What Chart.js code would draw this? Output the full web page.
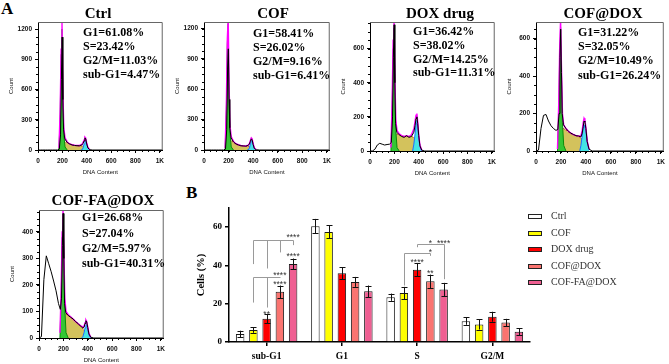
<!DOCTYPE html>
<html>
<head>
<meta charset="utf-8">
<script src="https://cdn.jsdelivr.net/npm/chart.js@4.4.0/dist/chart.umd.min.js"></script>
<style>
  body { margin: 0; background: #fff; }
  #fig { position: relative; width: 669px; height: 364px; overflow: hidden; font-family: 'Liberation Serif', 'Times New Roman', serif; color: #000; }
  #fig canvas { position: absolute; }
  .ttl { position: absolute; font-weight: bold; font-size: 15px; transform: translate(-50%, -50%); white-space: nowrap; }
  .stat { position: absolute; font-weight: bold; font-size: 12px; white-space: nowrap; }
  .letter { position: absolute; font-weight: bold; font-size: 17px; line-height: 17px; }
</style>
</head>
<body>
<div id="fig">
  <div class="letter" style="left:1px; top:0px;">A</div>
  <div class="letter" style="left:186px; top:184px;">B</div>
</div>
<script>
// ---- A: DNA content histograms ----
const DATA_X = [0, 20, 40, 60, 80, 100, 120, 140, 160, 175, 185, 192, 198, 204, 210, 220, 240, 260, 280, 300, 320, 340, 360, 370, 378, 385, 392, 400, 410, 425, 450, 1024];
const FIT_X = [172, 182, 190, 197, 204, 212, 222, 240, 260, 280, 300, 320, 340, 360, 370, 378, 385, 392, 400, 410, 425];
const G1_X = [172, 182, 190, 197, 204, 212, 222, 240];
const S_X = [185, 192, 198, 204, 210, 220, 240, 260, 280, 300, 320, 340, 360, 370, 378, 385, 392, 400, 410];
const G2_X = [350, 360, 370, 378, 385, 392, 400, 410, 425];
const HIST_X_TICKS = [0, 200, 400, 600, 800, 1000];

const HIST_TITLES = ['Ctrl', 'COF', 'DOX drug', 'COF@DOX', 'COF-FA@DOX'];

const CTRL_STATS = ['G1=61.08%', 'S=23.42%', 'G2/M=11.03%', 'sub-G1=4.47%'];
const CTRL_Y_TICKS = [0, 300, 600, 900, 1200];
const CTRL_COUNT = [0, 0, 0, 0, 0, 0, 0, 0, 0, 10, 150, 700, 1120, 500, 200, 110, 75, 60, 50, 45, 43, 42, 50, 65, 90, 120, 110, 60, 20, 3, 0, 0];
const CTRL_FIT = [20, 400, 1000, 1280, 600, 220, 120, 80, 60, 52, 47, 45, 45, 55, 75, 100, 128, 118, 70, 25, 5];
const CTRL_G1 = [0, 350, 950, 1200, 550, 150, 30, 0];
const CTRL_S = [0, 30, 70, 80, 80, 80, 75, 58, 50, 45, 42, 40, 40, 40, 35, 25, 15, 5, 0];
const CTRL_G2 = [0, 0, 20, 60, 95, 95, 60, 20, 0];

const COF_STATS = ['G1=58.41%', 'S=26.02%', 'G2/M=9.16%', 'sub-G1=6.41%'];
const COF_Y_TICKS = [0, 300, 600, 900, 1200];
const COF_COUNT = [0, 0, 0, 0, 0, 0, 0, 0, 0, 10, 200, 800, 1000, 500, 220, 120, 80, 60, 50, 42, 40, 38, 45, 60, 85, 110, 100, 55, 15, 3, 0, 0];
const COF_FIT = [20, 450, 1100, 1300, 650, 240, 130, 85, 62, 52, 45, 42, 40, 48, 65, 95, 120, 110, 65, 20, 5];
const COF_G1 = [0, 400, 1050, 1250, 600, 160, 30, 0];
const COF_S = [0, 30, 70, 85, 90, 95, 75, 58, 48, 42, 38, 35, 35, 33, 30, 22, 12, 5, 0];
const COF_G2 = [0, 0, 20, 60, 90, 95, 55, 15, 0];

const DOX_STATS = ['G1=36.42%', 'S=38.02%', 'G2/M=14.25%', 'sub-G1=11.31%'];
const DOX_Y_TICKS = [0, 200, 400, 600];
const DOX_COUNT = [0, 0, 10, 35, 45, 40, 35, 38, 40, 50, 200, 550, 740, 400, 160, 110, 95, 85, 80, 90, 80, 85, 110, 150, 190, 200, 160, 90, 30, 5, 0, 0];
const DOX_FIT = [20, 300, 650, 780, 450, 180, 120, 100, 90, 85, 90, 85, 95, 130, 175, 210, 220, 170, 95, 35, 5];
const DOX_G1 = [0, 250, 600, 720, 380, 120, 20, 0];
const DOX_S = [20, 50, 80, 95, 100, 100, 95, 88, 85, 85, 85, 85, 80, 70, 55, 40, 25, 10, 0];
const DOX_G2 = [0, 40, 100, 160, 180, 145, 80, 25, 0];

const COFDOX_STATS = ['G1=31.22%', 'S=32.05%', 'G2/M=10.49%', 'sub-G1=26.24%'];
const COFDOX_Y_TICKS = [0, 200, 400, 600];
const COFDOX_COUNT = [0, 5, 120, 190, 195, 160, 135, 120, 110, 115, 200, 500, 650, 420, 200, 140, 120, 105, 95, 88, 82, 80, 75, 95, 130, 160, 155, 120, 50, 10, 0, 0];
const COFDOX_FIT = [10, 250, 560, 700, 450, 200, 140, 120, 105, 95, 88, 82, 80, 80, 110, 150, 175, 165, 125, 55, 10];
const COFDOX_G1 = [0, 220, 520, 660, 420, 150, 30, 0];
const COFDOX_S = [30, 60, 90, 110, 120, 120, 112, 100, 92, 86, 80, 78, 70, 60, 45, 30, 20, 10, 0];
const COFDOX_G2 = [0, 30, 80, 120, 140, 140, 110, 50, 5];

const COFFA_STATS = ['G1=26.68%', 'S=27.04%', 'G2/M=5.97%', 'sub-G1=40.31%'];
const COFFA_Y_TICKS = [0, 100, 200, 300, 400];
const COFFA_COUNT = [0, 5, 220, 310, 280, 250, 215, 178, 130, 108, 150, 350, 470, 300, 130, 95, 85, 78, 72, 62, 55, 45, 38, 40, 55, 65, 60, 40, 15, 3, 0, 0];
const COFFA_FIT = [20, 180, 400, 490, 330, 150, 100, 88, 80, 72, 62, 55, 47, 42, 45, 58, 68, 62, 42, 18, 3];
const COFFA_G1 = [0, 150, 380, 470, 310, 110, 20, 0];
const COFFA_S = [20, 50, 75, 88, 92, 92, 85, 78, 70, 60, 52, 44, 36, 30, 24, 16, 10, 5, 0];
const COFFA_G2 = [0, 5, 20, 38, 50, 50, 32, 12, 0];

// ---- B: cell cycle bar chart ----
const PHASES = ['sub-G1', 'G1', 'S', 'G2/M'];
const GROUPS = ['Ctrl', 'COF', 'DOX drug', 'COF@DOX', 'COF-FA@DOX'];
const BAR_Y_TICKS = [0, 20, 40, 60];
const CTRL_MEAN = [4.2, 60.5, 23.4, 10.9];
const COF_MEAN = [6.3, 57.5, 25.6, 9.2];
const DOX_MEAN = [12.2, 35.9, 37.8, 13.2];
const COFDOX_MEAN = [26.2, 31.4, 31.7, 10.2];
const COFFA_MEAN = [40.8, 26.5, 27.4, 5.3];
const CTRL_SD = [1.7, 3.8, 1.9, 1.9];
const COF_SD = [1.5, 3.4, 3.2, 2.7];
const DOX_SD = [2.4, 3.1, 3.5, 2.6];
const COFDOX_SD = [3.3, 2.6, 3.5, 1.9];
const COFFA_SD = [2.8, 3.0, 3.5, 1.9];

// significance brackets: phase index, bars joined, bracket height, foot heights (in %)
const BRACKET_PHASE = [0, 0, 2, 2];
const BRACKET_BARS = [[1, 2, 3, 4], [1, 2, 3], [2, 4], [1, 3]];
const BRACKET_TOP = [53.4, 33.7, 51.2, 46.5];
const BRACKET_FEET = [[40.7, 38.4, 46.8, 50.6], [20.6, 18, 33.7], [49.5, 32.8], [29.5, 45]];
const STAR_PHASE = [0, 0, 0, 0, 0, 2, 2, 2, 2, 2];
const STAR_BAR = [4, 3, 3, 4, 2, 4, 3, 3, 2, 3];
const STAR_Y = [55.6, 35.5, 31.2, 45.5, 15.4, 52.4, 52.4, 47.6, 42.5, 36.9];
const STAR_TEXT = ['****', '****', '****', '****', '**', '****', '*', '*', '****', '**'];

// ---- styling / layout ----
const HIST_LAYOUT = [
  { area: [38, 22, 166, 150], ymax: 1270, ystep: 300, title: [98, 13], stats: [83, 32, 14] },
  { area: [204, 22, 333, 150], ymax: 1265, ystep: 300, title: [273, 13], stats: [253, 33, 14] },
  { area: [370, 22, 498, 151], ymax: 756, ystep: 200, title: [440, 13], stats: [413, 32, 13.7] },
  { area: [536, 22, 667, 151], ymax: 688, ystep: 200, title: [603, 13], stats: [578, 32, 14.3] },
  { area: [39, 210, 167, 338], ymax: 483, ystep: 100, title: [103, 200], stats: [82, 218, 15.3] }
];
const HIST_DATA = [
  [CTRL_COUNT, CTRL_FIT, CTRL_G1, CTRL_S, CTRL_G2, CTRL_STATS, CTRL_Y_TICKS],
  [COF_COUNT, COF_FIT, COF_G1, COF_S, COF_G2, COF_STATS, COF_Y_TICKS],
  [DOX_COUNT, DOX_FIT, DOX_G1, DOX_S, DOX_G2, DOX_STATS, DOX_Y_TICKS],
  [COFDOX_COUNT, COFDOX_FIT, COFDOX_G1, COFDOX_S, COFDOX_G2, COFDOX_STATS, COFDOX_Y_TICKS],
  [COFFA_COUNT, COFFA_FIT, COFFA_G1, COFFA_S, COFFA_G2, COFFA_STATS, COFFA_Y_TICKS]
];
const BAR_MEANS = [CTRL_MEAN, COF_MEAN, DOX_MEAN, COFDOX_MEAN, COFFA_MEAN];
const BAR_SDS = [CTRL_SD, COF_SD, DOX_SD, COFDOX_SD, COFFA_SD];
const BAR_COLORS = ['#ffffff', '#ffff00', '#ff0000', '#fa7470', '#ef5f92'];

const SANS = "'Liberation Sans', Arial, sans-serif";
const SERIF = "'Liberation Serif', 'Times New Roman', serif";
const fig = document.getElementById('fig');

function pts(xs, ys) {
  return xs.map((x, i) => ({ x: x, y: ys[i] }));
}

function asTicks(values) {
  return values.map(v => ({ value: v }));
}

function addDiv(cls, html, left, top, extra) {
  const d = document.createElement('div');
  d.className = cls;
  d.innerHTML = html;
  d.style.left = left + 'px';
  d.style.top = top + 'px';
  if (extra) Object.assign(d.style, extra);
  fig.appendChild(d);
  return d;
}

function addCanvas(left, top, w, h) {
  const cv = document.createElement('canvas');
  cv.width = w; cv.height = h;
  cv.style.left = left + 'px'; cv.style.top = top + 'px';
  cv.style.width = w + 'px'; cv.style.height = h + 'px';
  fig.appendChild(cv);
  return cv;
}

// frame on top/right + minor tick marks
const histFrame = {
  id: 'histFrame',
  afterDraw(chart, args, opts) {
    const { ctx, chartArea: a, scales: { x, y } } = chart;
    ctx.save();
    ctx.strokeStyle = '#666';
    ctx.lineWidth = 1;
    ctx.beginPath();
    ctx.moveTo(a.left, a.top + 0.5); ctx.lineTo(a.right - 0.5, a.top + 0.5); ctx.lineTo(a.right - 0.5, a.bottom);
    ctx.stroke();
    ctx.strokeStyle = '#000';
    ctx.beginPath();
    for (let v = 0; v <= x.max; v += 50) {
      const px = Math.round(x.getPixelForValue(v)) + 0.5;
      ctx.moveTo(px, a.bottom); ctx.lineTo(px, a.bottom + 2);
    }
    for (let v = 0; v <= y.max; v += opts.yMinor) {
      const py = Math.round(y.getPixelForValue(v)) + 0.5;
      ctx.moveTo(a.left, py); ctx.lineTo(a.left - 2, py);
    }
    ctx.stroke();
    ctx.restore();
  }
};

function makeHist(k) {
  const lay = HIST_LAYOUT[k];
  const [count, fit, g1, s, g2, stats, yTicks] = HIST_DATA[k];
  const L = 38, T = 22, R = 2, B = 28;
  const [x0, y0, x1, y1] = lay.area;
  const cv = addCanvas(x0 - L, y0 - T, x1 - x0 + L + R, y1 - y0 + T + B);

  addDiv('ttl', HIST_TITLES[k], lay.title[0], lay.title[1]);
  addDiv('stat', stats.join('<br>'), lay.stats[0], lay.stats[1] - lay.stats[2] / 2,
    { lineHeight: lay.stats[2] + 'px' });

  new Chart(cv, {
    type: 'line',
    data: {
      datasets: [
        { data: pts(DATA_X, count), borderColor: '#000', borderWidth: 1, fill: false, order: 0 },
        { data: pts(FIT_X, fit), borderColor: '#ff00ff', borderWidth: 1.4, fill: false, order: 1 },
        { data: pts(G2_X, g2), borderColor: '#1e6cff', borderWidth: 1, backgroundColor: '#44e4e4', fill: 'origin', order: 2 },
        { data: pts(G1_X, g1), borderColor: '#0a8a0a', borderWidth: 1, backgroundColor: '#34c634', fill: 'origin', order: 3 },
        { data: pts(S_X, s), borderColor: '#c0391b', borderWidth: 1, borderDash: [2, 1], backgroundColor: '#d3c25c', fill: 'origin', order: 4 }
      ]
    },
    options: {
      responsive: false,
      animation: false,
      events: [],
      layout: { padding: { left: 0, top: T, right: R, bottom: 0 } },
      elements: { point: { radius: 0 }, line: { tension: 0 } },
      plugins: { legend: { display: false }, tooltip: { enabled: false }, histFrame: { yMinor: lay.ystep / 4 } },
      scales: {
        x: {
          type: 'linear', min: 0, max: 1024,
          afterBuildTicks: sc => { sc.ticks = asTicks(HIST_X_TICKS); },
          afterFit: sc => { sc.height = B; },
          ticks: { maxRotation: 0, autoSkip: false, padding: 4, color: '#111',
                   font: { family: SANS, size: 6.5, weight: 'bold' },
                   callback: v => (v === 1000 ? '1K' : String(v)) },
          grid: { drawOnChartArea: false, tickLength: 3, color: '#000' },
          border: { color: '#000', width: 1 },
          title: { display: true, text: 'DNA Content', color: '#111', padding: { top: 2, bottom: 2 },
                   font: { family: SANS, size: 6 } }
        },
        y: {
          min: 0, max: lay.ymax,
          afterBuildTicks: sc => { sc.ticks = asTicks(yTicks); },
          afterFit: sc => { sc.width = L; },
          ticks: { autoSkip: false, padding: 3, color: '#111',
                   font: { family: SANS, size: 6.5, weight: 'bold' },
                   callback: v => String(v) },
          grid: { drawOnChartArea: false, tickLength: 3, color: '#000' },
          border: { color: '#000', width: 1 },
          title: { display: true, text: 'Count', color: '#111', padding: { top: 8, bottom: 0 },
                   font: { family: SANS, size: 6 } }
        }
      }
    },
    plugins: [histFrame]
  });
}

HIST_LAYOUT.forEach((_, k) => makeHist(k));

// ---- bar chart plugins ----
function barX(chart, phase, bar) {
  return chart.getDatasetMeta(bar).data[phase].x;
}

const errorBars = {
  id: 'errorBars',
  afterDatasetsDraw(chart) {
    const { ctx, scales: { y } } = chart;
    ctx.save();
    ctx.strokeStyle = '#111';
    ctx.lineWidth = 1;
    chart.data.datasets.forEach((ds, i) => {
      chart.getDatasetMeta(i).data.forEach((bar, j) => {
        const v = ds.data[j], e = ds.errors[j];
        const top = y.getPixelForValue(v + e), bot = y.getPixelForValue(v - e);
        const cx = Math.round(bar.x) + 0.5;
        ctx.beginPath();
        ctx.moveTo(cx, top); ctx.lineTo(cx, bot);
        ctx.moveTo(cx - 3, Math.round(top) + 0.5); ctx.lineTo(cx + 3, Math.round(top) + 0.5);
        ctx.moveTo(cx - 3, Math.round(bot) + 0.5); ctx.lineTo(cx + 3, Math.round(bot) + 0.5);
        ctx.stroke();
      });
    });
    ctx.restore();
  }
};

const sigMarks = {
  id: 'sigMarks',
  afterDatasetsDraw(chart) {
    const { ctx, scales: { y } } = chart;
    ctx.save();
    ctx.strokeStyle = '#9a9a9a';
    ctx.lineWidth = 1;
    BRACKET_BARS.forEach((bars, b) => {
      const xs = bars.map(k => Math.round(barX(chart, BRACKET_PHASE[b], k)) + 0.5);
      const yt = Math.round(y.getPixelForValue(BRACKET_TOP[b])) + 0.5;
      ctx.beginPath();
      ctx.moveTo(xs[0], yt); ctx.lineTo(xs[xs.length - 1], yt);
      xs.forEach((px, k) => { ctx.moveTo(px, yt); ctx.lineTo(px, y.getPixelForValue(BRACKET_FEET[b][k])); });
      ctx.stroke();
    });
    ctx.fillStyle = '#333';
    ctx.font = '8.5px ' + SANS;
    ctx.textAlign = 'center';
    ctx.textBaseline = 'middle';
    STAR_TEXT.forEach((t, i) => {
      ctx.fillText(t, barX(chart, STAR_PHASE[i], STAR_BAR[i]), y.getPixelForValue(STAR_Y[i]) + 2);
    });
    ctx.restore();
  }
};

const sideLegend = {
  id: 'sideLegend',
  afterDraw(chart) {
    const { ctx, chartArea } = chart;
    const x = chartArea.right - 2;
    ctx.save();
    ctx.font = '10px ' + SERIF;
    ctx.textBaseline = 'middle';
    chart.data.datasets.forEach((ds, i) => {
      const y = Math.round(chartArea.top + 8 + i * 16.6);
      ctx.fillStyle = ds.backgroundColor;
      ctx.fillRect(x, y - 2, 14, 5);
      ctx.strokeStyle = '#222';
      ctx.lineWidth = 1;
      ctx.strokeRect(x + 0.5, y - 1.5, 13, 4);
      ctx.fillStyle = '#333';
      ctx.fillText(ds.label, x + 23, y + 0.5);
    });
    ctx.restore();
  }
};

const barCanvas = addCanvas(170, 175, 499, 189);
new Chart(barCanvas, {
  type: 'bar',
  data: {
    labels: PHASES,
    datasets: GROUPS.map((g, i) => ({
      label: g,
      data: BAR_MEANS[i],
      errors: BAR_SDS[i],
      backgroundColor: BAR_COLORS[i],
      borderColor: '#1a1a1a',
      borderWidth: 1
    }))
  },
  options: {
    responsive: false,
    animation: false,
    events: [],
    layout: { padding: { left: 21, top: 33, right: 139, bottom: 0 } },
    datasets: { bar: { categoryPercentage: 0.88, barPercentage: 0.64 } },
    plugins: { legend: { display: false }, tooltip: { enabled: false } },
    scales: {
      x: {
        afterFit: sc => { sc.height = 22; },
        ticks: { padding: 5, color: '#000', font: { family: SERIF, size: 9.5, weight: 'bold' } },
        grid: { drawOnChartArea: false, offset: false, tickLength: 4, color: '#000', lineWidth: 1.5 },
        border: { color: '#000', width: 1.5 }
      },
      y: {
        min: 0, max: 70,
        afterBuildTicks: sc => { sc.ticks = asTicks(BAR_Y_TICKS); },
        afterFit: sc => { sc.width = 38; },
        ticks: { padding: 3, color: '#000', font: { family: SERIF, size: 9, weight: 'bold' } },
        grid: { drawOnChartArea: false, tickLength: 4, color: '#000', lineWidth: 1.5 },
        border: { color: '#000', width: 1.5 },
        title: { display: true, text: 'Cells (%)', color: '#000', padding: { top: 4, bottom: 0 },
                 font: { family: SERIF, size: 10.5, weight: 'bold' } }
      }
    }
  },
  plugins: [errorBars, sigMarks, sideLegend]
});
</script>
</body>
</html>
